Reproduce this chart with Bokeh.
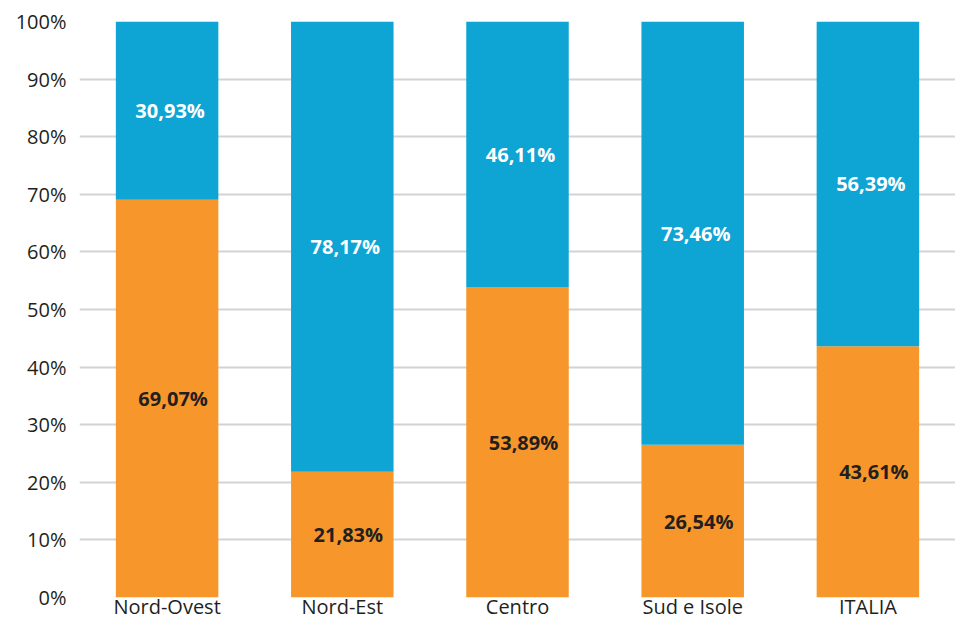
from bokeh.plotting import figure
from bokeh.models import ColumnDataSource, FactorRange, Range1d, FixedTicker, CustomJSTickFormatter
from bokeh.core.properties import value
from bokeh.embed import file_html
from bokeh.resources import INLINE

categories = ["Nord-Ovest", "Nord-Est", "Centro", "Sud e Isole", "ITALIA"]
orange_vals = [69.07, 21.83, 53.89, 26.54, 43.61]
blue_vals = [30.93, 78.17, 46.11, 73.46, 56.39]
y_ticks = [0, 10, 20, 30, 40, 50, 60, 70, 80, 90, 100]

ORANGE = "#F7962A"
BLUE = "#0EA4D4"
FONT = "Open Sans"

src = ColumnDataSource(dict(cat=categories, o=orange_vals, b=blue_vals))

p = figure(x_range=FactorRange(*categories, range_padding=0), y_range=Range1d(0, 100),
           width=955, height=622, output_backend="svg", toolbar_location=None,
           min_border_top=21, min_border_right=0, min_border_left=79, min_border_bottom=24)
p.outline_line_color = None

p.vbar_stack(["o", "b"], x="cat", width=0.585, color=[ORANGE, BLUE], line_color=None, source=src)

def fmt(v):
    return ("%.2f" % v).replace(".", ",") + "%"

ox, oy, ot = [], [], []
for c, o in zip(categories, orange_vals):
    ox.append(c); oy.append(o / 2); ot.append(fmt(o))
bx, by, bt = [], [], []
for c, o, b in zip(categories, orange_vals, blue_vals):
    bx.append(c); by.append(o + b / 2); bt.append(fmt(b))

p.text(x=ox, y=oy, text=ot, text_align="center", text_baseline="middle", x_offset=6,
       text_font=value(FONT), text_font_style="bold", text_font_size="20px", text_color="#231F20")
p.text(x=bx, y=by, text=bt, text_align="center", text_baseline="middle", x_offset=3,
       text_font=value(FONT), text_font_style="bold", text_font_size="20px", text_color="#FFFFFF")

p.xgrid.grid_line_color = None
p.ygrid.grid_line_color = "#D2D3D5"
p.ygrid.grid_line_width = 2
p.yaxis.ticker = FixedTicker(ticks=y_ticks)
p.yaxis.formatter = CustomJSTickFormatter(code="return tick.toFixed(0) + '%';")

for ax in (p.xaxis[0], p.yaxis[0]):
    ax.axis_line_color = None
    ax.major_tick_line_color = None
    ax.minor_tick_line_color = None
    ax.major_tick_out = 0
    ax.major_label_text_font = FONT
    ax.major_label_text_font_size = "20px"
    ax.major_label_text_color = "#231F20"
p.yaxis.major_label_standoff = 13
p.xaxis.major_label_standoff = -5

open("out.html", "w").write(file_html(p, INLINE))
